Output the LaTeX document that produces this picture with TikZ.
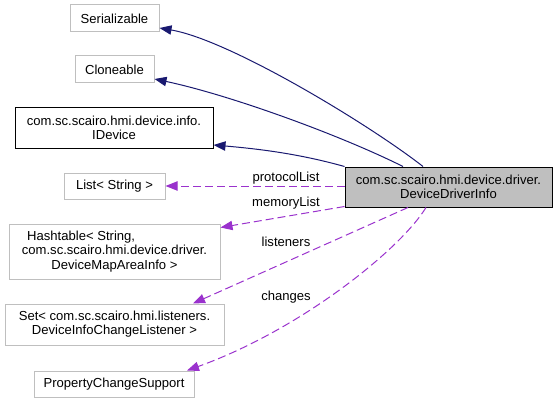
\documentclass[tikz,border=0pt]{standalone}
\usepackage{fontspec}
\setmainfont{Liberation Sans}
\usetikzlibrary{arrows.meta}
\definecolor{edgeblue}{RGB}{25,25,112}
\definecolor{edgepurple}{RGB}{154,50,205}
\definecolor{boxgray}{RGB}{191,191,191}
\def\px{0.75pt}
\tikzset{
  cls/.style={draw=boxgray,line width=\px,inner sep=0pt,align=center,font=\fontsize{9.8}{10.6}\selectfont},
  inherit/.style={edgeblue,line width=\px,-{Triangle[length=9pt,width=7pt]}},
  uses/.style={edgepurple,line width=\px,dash pattern=on 6pt off 3pt,-{Triangle[length=9pt,width=7pt]}},
  lbl/.style={font=\fontsize{9.8}{10.6}\selectfont,inner sep=0pt}
}
\begin{document}
\begin{tikzpicture}[x=\px,y=-\px]
  \useasboundingbox (0,0) rectangle (557,403); % pixel grid, y down
  \node[cls,minimum width=89*\px,minimum height=27*\px] (ser) at (114.5,18.5) {Serializable};
  \node[cls,minimum width=79*\px,minimum height=27*\px] (clo) at (114.5,69.5) {Cloneable};
  \node[cls,draw=black,minimum width=198*\px,minimum height=40*\px] (ide) at (114,128)
    {com.sc.scairo.hmi.device.info.\\IDevice};
  \node[cls,minimum width=101*\px,minimum height=26*\px] (lst) at (114.5,186) {List< String >};
  \node[cls,minimum width=211*\px,minimum height=55*\px] (hash) at (114.5,251.5)
    {Hashtable< String,\hspace*{50pt}\\ com.sc.scairo.hmi.device.driver.\\DeviceMapAreaInfo >};
  \node[cls,minimum width=219*\px,minimum height=41*\px] (set) at (114.5,324.5)
    {Set< com.sc.scairo.hmi.listeners.\\DeviceInfoChangeListener >};
  \node[cls,minimum width=160*\px,minimum height=26*\px] (pcs) at (114,384) {PropertyChangeSupport};
  \node[cls,draw=black,fill=boxgray,minimum width=207*\px,minimum height=40*\px] (main) at (448.5,187)
    {com.sc.scairo.hmi.device.driver.\\DeviceDriverInfo};
  % inheritance
  \draw[inherit] ([xshift=-25.5*\px]main.north) .. controls (370,125) and (230,40) .. ([yshift=-9.5*\px]ser.east);
  \draw[inherit] ([xshift=-45.5*\px]main.north) .. controls (340,135) and (230,95) .. ([yshift=-9.5*\px]clo.east);
  \draw[inherit] (main.north west) .. controls (300,154) and (260,149) .. ([yshift=-17*\px]ide.east);
  % members
  \draw[uses] ([yshift=1*\px]main.west) -- (lst.east);
  \draw[uses] ([yshift=1*\px]main.south west) -- ([yshift=-4*\px]hash.north east);
  \draw[uses] ([xshift=-40.5*\px]main.south) -- ([xshift=78.5*\px]set.north);
  \draw[uses] ([xshift=-22.5*\px]main.south) .. controls (400,250) and (300,330) .. ([xshift=73*\px]pcs.north);
  \node[lbl] (plist) at (286,178) {protocolList};
  \node[lbl] (mlist) at (286,203) {memoryList};
  \node[lbl] (lsnr) at (286,242) {listeners};
  \node[lbl] (chg) at (286,297) {changes};
\end{tikzpicture}
\end{document}
